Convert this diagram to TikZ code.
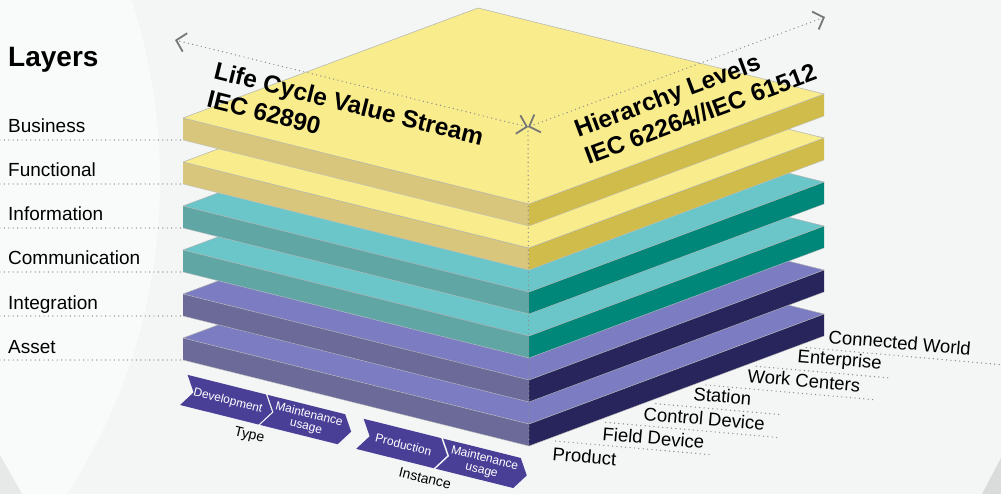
\documentclass[tikz,border=0pt]{standalone}
\usepackage{fontspec}
\setmainfont{Liberation Sans}
\usetikzlibrary{arrows.meta,calc,shapes.symbols}

\definecolor{bgc}{HTML}{F4F6F6}
\definecolor{bgw}{HTML}{F9FAFA}
\definecolor{bgd}{HTML}{E7E8E8}
\definecolor{bgg}{HTML}{DADCDC}
\definecolor{ylwT}{HTML}{F8EC8C}
\definecolor{ylwL}{HTML}{D7C67C}
\definecolor{ylwR}{HTML}{D0BC4A}
\definecolor{teaT}{HTML}{6BC6C9}
\definecolor{teaL}{HTML}{5FA6A5}
\definecolor{teaR}{HTML}{008779}
\definecolor{prpT}{HTML}{7B7CC2}
\definecolor{prpL}{HTML}{6B6A98}
\definecolor{prpR}{HTML}{27255B}
\definecolor{chevc}{HTML}{4A3F97}
\definecolor{dotc}{HTML}{8C8C8C}
\definecolor{axc}{HTML}{777777}

\tikzset{
  dotline/.style={draw=dotc, line width=1.4pt, line cap=round, dash pattern=on 0pt off 4.4pt},
  axisline/.style={dotline, {Straight Barb[length=9pt,width=19pt,line width=1.8pt,color=axc]}-{Straight Barb[length=9pt,width=19pt,line width=1.8pt,color=axc]}},
  facetop/.style={draw=black!30, line width=0.5pt, line join=round},
  layerlbl/.style={anchor=base west, inner sep=0pt, font=\fontsize{19}{22}\selectfont},
  levellbl/.style={anchor=base west, inner sep=0pt, rotate=-5, font=\fontsize{18.5}{22}\selectfont},
  axislbl/.style={anchor=north west, inner sep=0pt, align=left, font=\bfseries\fontsize{24.5}{29}\selectfont},
  chev/.style={shape=signal, signal from=west, signal to=east, signal pointer angle=114, fill=chevc, text=white, minimum width=90pt, minimum height=31pt, inner sep=0pt, align=center, font=\fontsize{12}{12.5}\selectfont},
  phase/.style={inner sep=0pt, font=\fontsize{14}{16}\selectfont}
}

\begin{document}
\begin{tikzpicture}[x=1pt, y=-1pt]
  \useasboundingbox (0,0) rectangle (1001,494);
  % background
  \begin{scope}
    \clip (0,0) rectangle (1001,494);
    \fill[bgc] (0,0) rectangle (1001,494);
    \fill[bgw] (-415,180) circle[radius=575pt];
    \fill[bgd] (0,455) -- (22,494) -- (0,494) -- cycle;
    \fill[bgg] (1001,458) -- (982,494) -- (1001,494) -- cycle;
  \end{scope}

  % slabs, bottom to top
  \foreach \i/\ct/\cl/\cr in {5/prpT/prpL/prpR, 4/prpT/prpL/prpR, 3/teaT/teaL/teaR,
                              2/teaT/teaL/teaR, 1/ylwT/ylwL/ylwR, 0/ylwT/ylwL/ylwR}{
    \begin{scope}[yshift=-44pt*\i]
      \fill[\cl] (183,118) -- (529,204) -- (529,226) -- (183,140) -- cycle;
      \fill[\cr] (529,204) -- (824,94) -- (824,116) -- (529,226) -- cycle;
      \filldraw[facetop, fill=\ct] (183,118) -- (478,8) -- (824,94) -- (529,204) -- cycle;
      \draw[black!25, line width=0.4pt] (183,140) -- (529,226) -- (824,116);
    \end{scope}
  }

  % layer labels
  \node[anchor=base west, inner sep=0pt, font=\bfseries\fontsize{28}{32}\selectfont] (layers) at (8,67) {Layers};
  \foreach \i/\name in {0/Business, 1/Functional, 2/Information, 3/Communication, 4/Integration, 5/Asset}{
    \coordinate (le\i) at (0,{140+44*\i});
    \coordinate (lc\i) at (183,{140+44*\i});
    \node[layerlbl] (lay\i) at (8,{133+44*\i}) {\name};
    \draw[dotline] (le\i) -- (lc\i);
  }

  % axes
  \coordinate (cross) at (528,127);
  \coordinate (axl) at (175,40);
  \coordinate (axr) at (825,17);
  \coordinate (fb) at (529,446);
  \coordinate (rb) at (824,336);
  \draw[dotline] (cross) -- (fb);
  \draw[axisline] (cross) -- (axl);
  \draw[axisline] (cross) -- (axr);
  \node[axislbl, rotate=-14] (lcvs) at (217,61) {Life Cycle Value Stream\\IEC 62890};
  \node[axislbl, rotate=20.5] (hier) at (572,121) {Hierarchy Levels\\IEC 62264//IEC 61512};

  % hierarchy levels
  \foreach \k/\len in {0/155, 1/172, 2/125, 3/167, 4/132, 5/195}{
    \coordinate (hs\k) at ($($(fb)!{0.09+0.17*\k}!(rb)$)+(0,5)$);
    \coordinate (he\k) at ($(hs\k)+({\len},{0.0875*\len})$);
    \draw[dotline] (hs\k) -- (he\k);
  }
  \node[levellbl] (cw) at (828,343) {Connected World};
  \node[levellbl] (ent) at (797,362) {Enterprise};
  \node[levellbl] (wc) at (747,382) {Work Centers};
  \node[levellbl] (sta) at (693,400) {Station};
  \node[levellbl] (cd) at (643,420) {Control Device};
  \node[levellbl] (fd) at (602,440) {Field Device};
  \node[levellbl] (prd) at (552,460) {Product};

  % life cycle phases
  \begin{scope}[shift={(188,375)}, rotate=-14, transform shape]
    \node[chev] (dev) at (45,15.5) {Development};
    \node[chev] (mnt1) at (127,15.5) {Maintenance\\usage};
    \node[chev] (prod) at (226,15.5) {Production};
    \node[chev] (mnt2) at (308,15.5) {Maintenance\\usage};
    \node[phase] (type) at (74,44) {Type};
    \node[phase] (inst) at (255,43) {Instance};
  \end{scope}
\end{tikzpicture}
\end{document}
